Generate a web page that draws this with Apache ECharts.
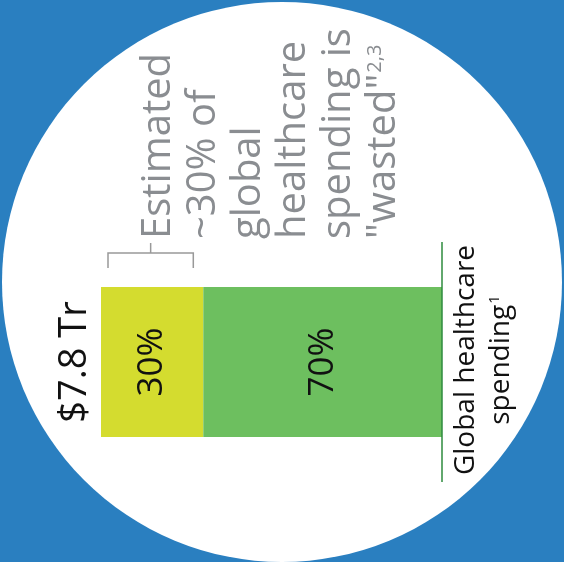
<!DOCTYPE html>
<html><head><meta charset="utf-8">
<script src="https://cdn.jsdelivr.net/npm/echarts@6/dist/echarts.min.js"></script>
<style>html,body{margin:0;padding:0;background:#2a7fc0;}#c{width:564px;height:562px;}</style>
</head><body><div id="c"></div>
<script>
const categories = ['$7.8 Tr'];
const wastedShare = [30];
const otherShare = [70];
const axisMax = 100;
const noteLines = ['Estimated', '~30% of', 'global', 'healthcare', 'spending is', '"wasted"{sup|2,3}'];
const totalLabelLines = ['Global healthcare', 'spending{sup|1}'];

const FONT = 'Open Sans';
const chart = echarts.init(document.getElementById('c'), null, {renderer: 'canvas'});
const segLabel = {show: true, position: 'inside', rotate: 90, formatter: '{c}%', fontSize: 35, color: '#111', fontFamily: FONT};
chart.setOption({
  backgroundColor: '#2a7fc0',
  animation: false,
  grid: {left: 101, right: 122, top: 242, bottom: 80, containLabel: false},
  xAxis: {type: 'value', min: 0, max: axisMax, show: false},
  yAxis: {type: 'category', data: categories, axisLine: {show: false}, axisTick: {show: false}, splitLine: {show: false},
    axisLabel: {rotate: 90, fontSize: 38, color: '#111', fontFamily: FONT, margin: 7}},
  series: [
    {type: 'bar', stack: 't', data: wastedShare, barWidth: 150, itemStyle: {color: '#d4dc2f'}, label: segLabel},
    {type: 'bar', stack: 't', data: otherShare, barWidth: 150, itemStyle: {color: '#6dbf5f'}, label: segLabel,
      markLine: {silent: true, symbol: 'none', label: {show: false},
        lineStyle: {color: '#2e8b3e', width: 1.5, type: 'solid'}, data: [{xAxis: axisMax}]}}
  ],
  graphic: [
    {id: 'circle', type: 'circle', z: -10, shape: {cx: 282, cy: 282, r: 280}, style: {fill: '#ffffff'}},
    {id: 'note', type: 'text', x: 136, y: 239, rotation: Math.PI / 2,
      style: {text: noteLines.join('\n'), fontSize: 40, fontFamily: FONT, fill: '#8a8d91', lineHeight: 45, align: 'left', verticalAlign: 'top',
        rich: {sup: {fontSize: 20, fontFamily: FONT, fill: '#8a8d91', verticalAlign: 'top', lineHeight: 45, padding: [4, 0, 0, 1]}}}},
    {id: 'total', type: 'text', x: 449, y: 360, rotation: Math.PI / 2,
      style: {text: totalLabelLines.join('\n'), fontSize: 28, fontFamily: FONT, fill: '#111', lineHeight: 35, align: 'center', verticalAlign: 'top',
        rich: {sup: {fontSize: 15, fontFamily: FONT, fill: '#111', verticalAlign: 'top', lineHeight: 35, padding: [3, 0, 0, 1]}}}}
  ]
});
// bracket over the wasted segment, positioned from the axis scale
const x0 = chart.convertToPixel({xAxisIndex: 0}, 0) + 7;
const x1 = chart.convertToPixel({xAxisIndex: 0}, wastedShare[0]) - 10;
const barTop = chart.convertToPixel({yAxisIndex: 0}, 0) - 75;
const xm = (x0 + x1) / 2;
chart.setOption({graphic: [
  {id: 'bracket', type: 'polyline', shape: {points: [[x0, barTop - 19], [x0, barTop - 34], [x1, barTop - 34], [x1, barTop - 19]]},
    style: {stroke: '#999', lineWidth: 1.5, fill: null}},
  {id: 'notch', type: 'line', shape: {x1: xm, y1: barTop - 34, x2: xm, y2: barTop - 44}, style: {stroke: '#999', lineWidth: 1.5}}
]});
</script></body></html>
